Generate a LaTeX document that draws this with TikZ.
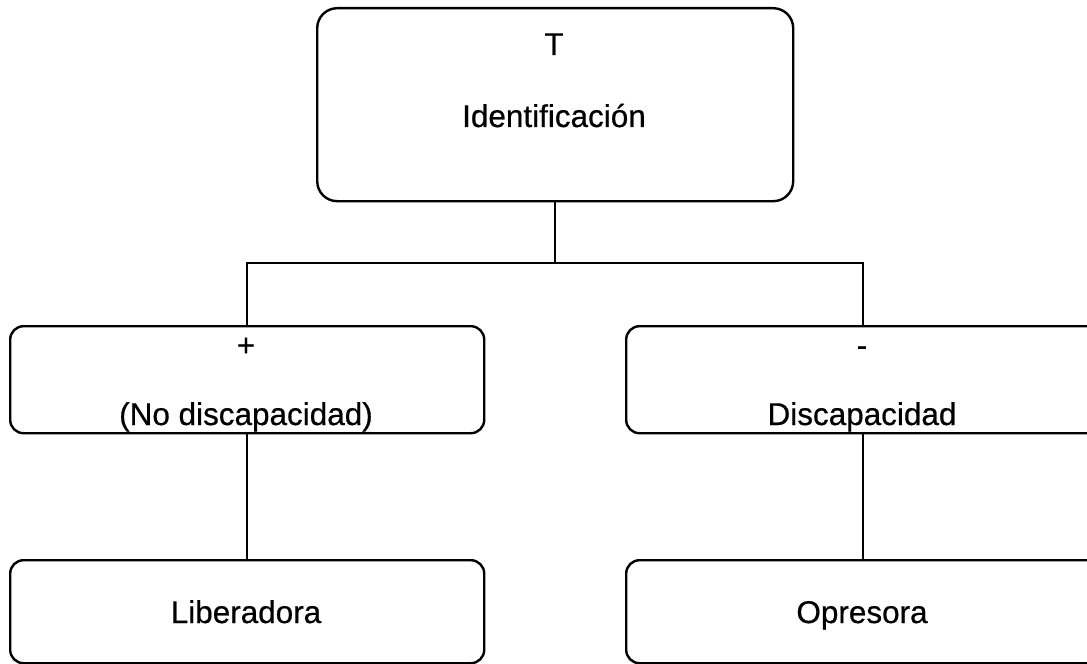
\documentclass[tikz,border=0pt]{standalone}
\usepackage{fontspec}
\setmainfont{Liberation Sans}[FakeBold=0.6]
\begin{document}
\begin{tikzpicture}[x=0.75pt,y=-0.75pt,
  box/.style={draw=black,line width=1.8pt,rounded corners=#1,inner sep=0pt,anchor=north west},
  box/.default=10pt,
  lbl/.style={anchor=base,inner sep=0pt,font=\fontsize{23.6pt}{28pt}\selectfont},
  wire/.style={draw=black,line width=1.8pt}]
  \useasboundingbox (0,0) rectangle (1087,663);
  \clip (0,0) rectangle (1087,663);

  % boxes (corner positions in pixel units)
  \node[box=15pt,minimum width=476*0.75pt,minimum height=193*0.75pt] (top) at (316,7) {};
  \node[box,minimum width=474*0.75pt,minimum height=107*0.75pt] (plus) at (9,325) {};
  \node[box,minimum width=474*0.75pt,minimum height=107*0.75pt] (minus) at (625,325) {};
  \node[box,minimum width=474*0.75pt,minimum height=103*0.75pt] (lib) at (9,559) {};
  \node[box,minimum width=474*0.75pt,minimum height=103*0.75pt] (opr) at (625,559) {};

  % texts
  \node[lbl] (tT) at (554,55) {T};
  \node[lbl] (tId) at (554,127) {Identificación};
  \node[lbl] (tPlus) at (246,356) {+};
  \node[lbl] (tNo) at (246,425) {(No discapacidad)};
  \node[lbl] (tMinus) at (862,356) {-};
  \node[lbl] (tDis) at (862,425) {Discapacidad};
  \node[lbl] (tLib) at (246,623) {Liberadora};
  \node[lbl] (tOpr) at (862,623) {Opresora};

  % connectors
  \draw[wire] (top.south) -- ++(0,60.5) coordinate (fork);
  \draw[wire] (fork) -| (plus.north);
  \draw[wire] (fork) -| (minus.north);
  \draw[wire] (plus.south) -- (lib.north);
  \draw[wire] (minus.south) -- (opr.north);
\end{tikzpicture}
\end{document}
